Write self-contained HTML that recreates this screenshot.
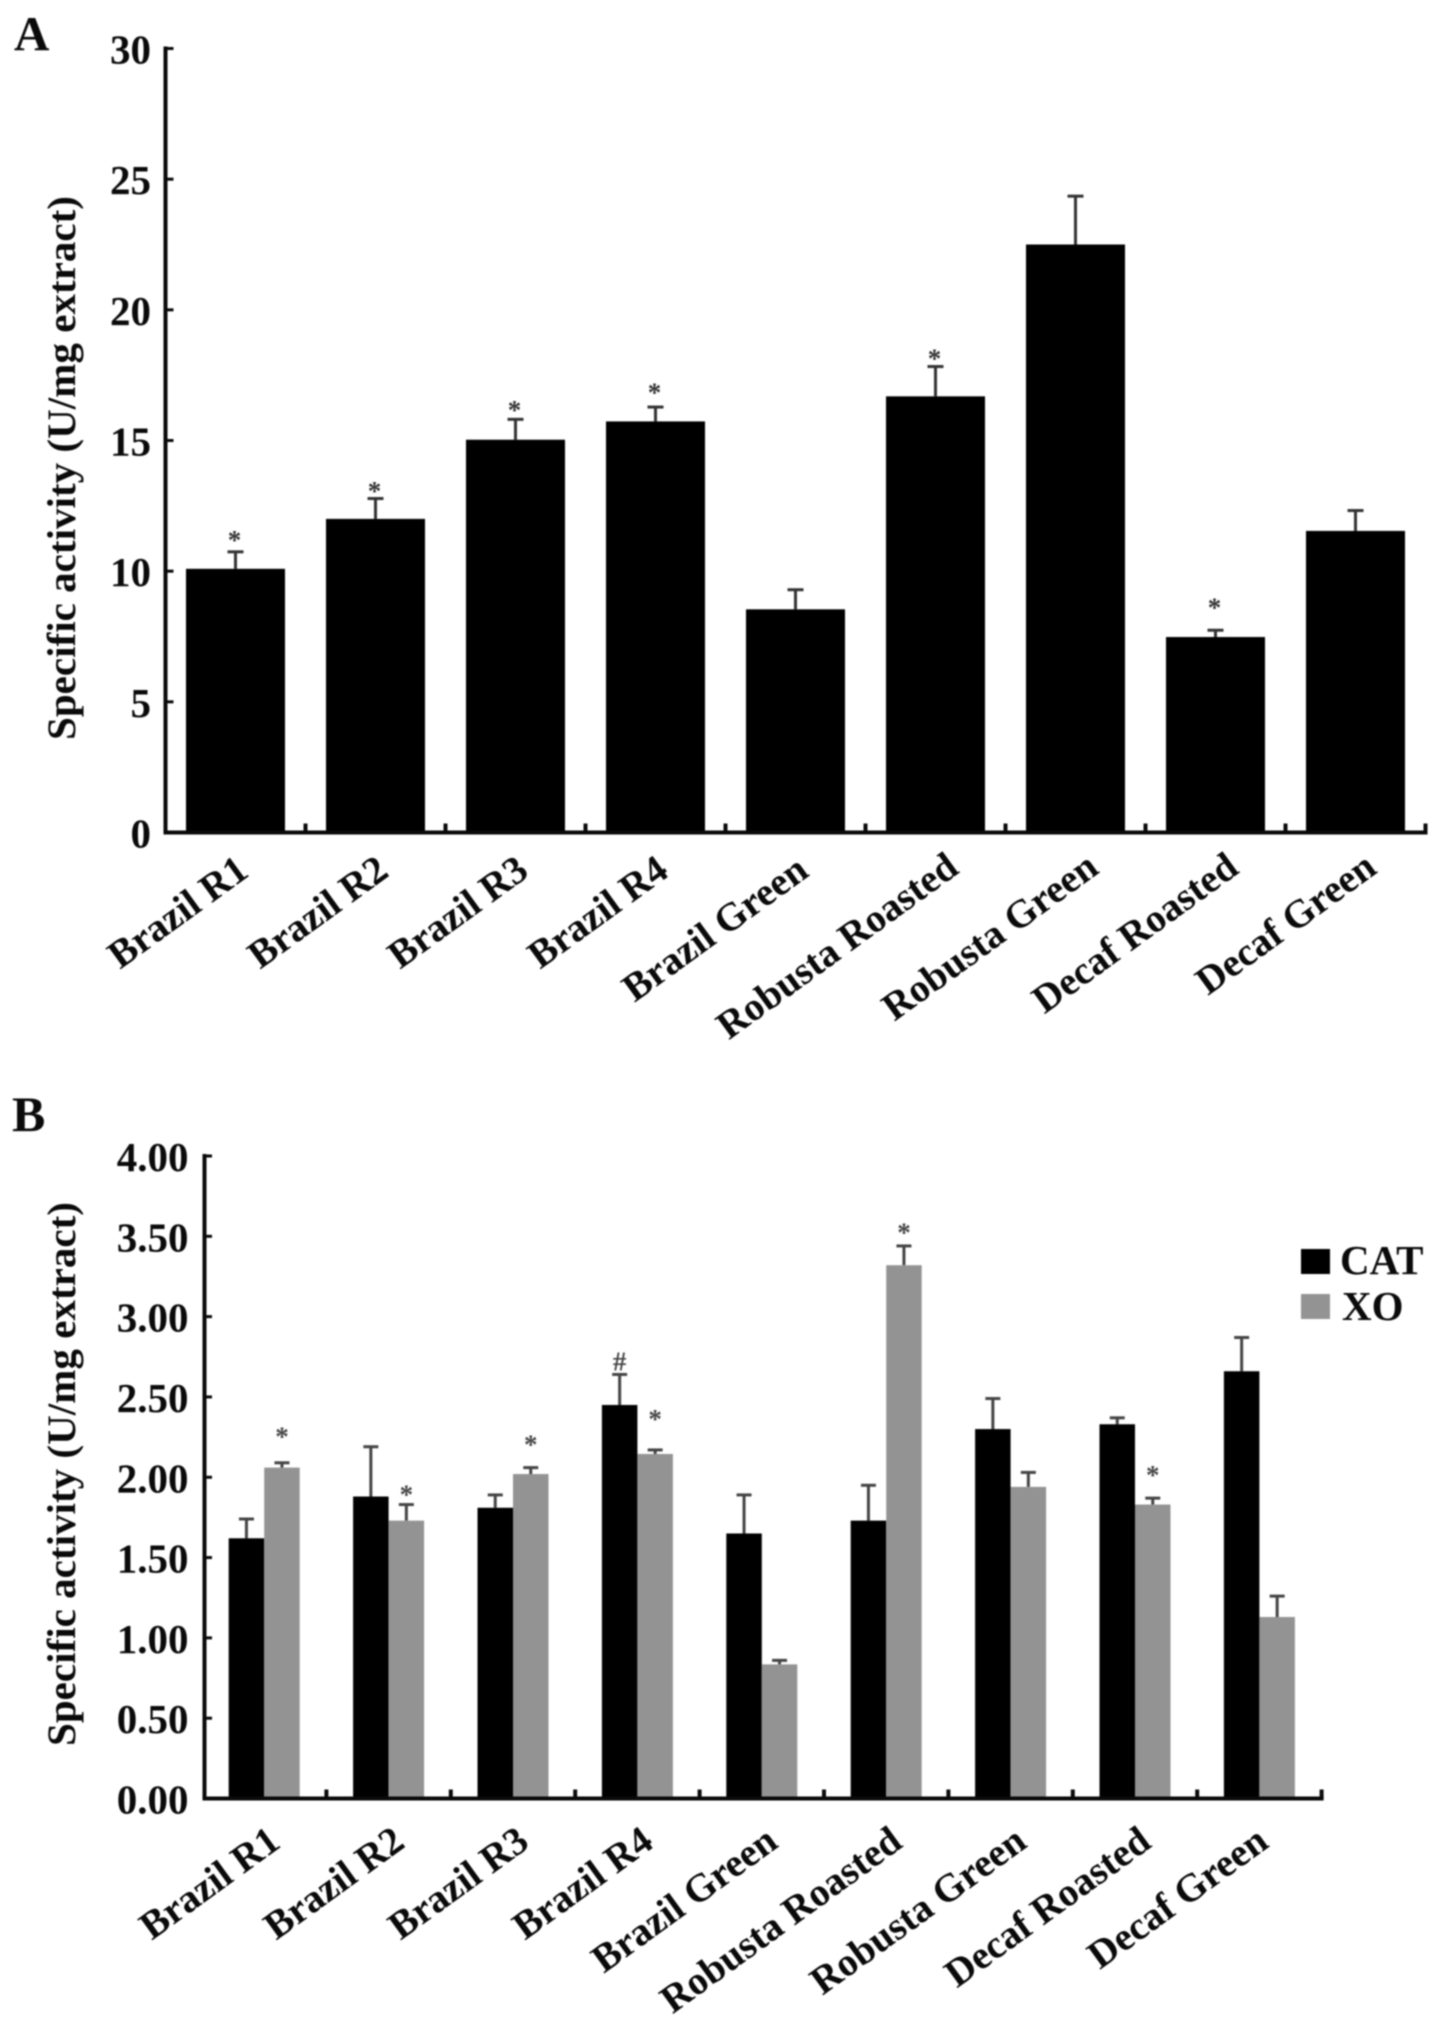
<!DOCTYPE html>
<html lang="en">
<head>
<meta charset="utf-8">
<title>Specific activity of coffee extracts</title>
<style>
html,body{margin:0;padding:0;background:#fff;width:1441px;height:2034px;overflow:hidden}
svg{display:block;filter:blur(0.7px)}
text{font-family:"Liberation Serif",serif;font-weight:bold;fill:#0a0a0a}
</style>
</head>
<body>
<svg id="figure" xmlns="http://www.w3.org/2000/svg" width="1441" height="2034" viewBox="0 0 1441 2034">
  <rect x="0" y="0" width="1441" height="2034" fill="#fff"/>
  <text x="14" y="50" font-size="49">A</text>
  <text x="12" y="1131" font-size="50">B</text>
  <text transform="translate(75,468) rotate(-90)" text-anchor="middle" font-size="40" textLength="544" lengthAdjust="spacingAndGlyphs">Specific activity (U/mg extract)</text>
  <text transform="translate(75,1474) rotate(-90)" text-anchor="middle" font-size="40" textLength="544" lengthAdjust="spacingAndGlyphs">Specific activity (U/mg extract)</text>
  <g id="panel-a"></g>
  <g id="panel-b"></g>
  <rect x="1301" y="1249" width="29" height="25" fill="#000"/>
  <text x="1340" y="1274" font-size="41">CAT</text>
  <rect x="1301" y="1294" width="29" height="25" fill="#939393"/>
  <text x="1342" y="1320" font-size="41">XO</text>
</svg>
<script>
const categories = ["Brazil R1", "Brazil R2", "Brazil R3", "Brazil R4", "Brazil Green", "Robusta Roasted", "Robusta Green", "Decaf Roasted", "Decaf Green"];

const activityValues = [10.09, 12.0, 15.03, 15.73, 8.54, 16.69, 22.5, 7.48, 11.54];
const activityErrors = [0.65, 0.78, 0.78, 0.55, 0.75, 1.14, 1.85, 0.26, 0.78];
const activityMarks = [11.43, 13.3, 16.4, 17.07, null, 18.36, null, 8.84, null];
const activityTickLabels = ["0", "5", "10", "15", "20", "25", "30"];
const activityTickValues = [0, 5, 10, 15, 20, 25, 30];

const catValues = [1.62, 1.88, 1.81, 2.45, 1.65, 1.73, 2.30, 2.33, 2.66];
const catErrors = [0.12, 0.31, 0.08, 0.19, 0.24, 0.22, 0.19, 0.04, 0.21];
const catMarks = [null, null, null, 2.72, null, null, null, null, null];
const xoValues = [2.06, 1.73, 2.02, 2.145, 0.835, 3.32, 1.94, 1.83, 1.13];
const xoErrors = [0.03, 0.10, 0.04, 0.025, 0.025, 0.12, 0.09, 0.04, 0.13];
const xoMarks = [2.29, 1.93, 2.24, 2.40, null, 3.56, null, 2.05, null];
const enzymeTickLabels = ["0.00", "0.50", "1.00", "1.50", "2.00", "2.50", "3.00", "3.50", "4.00"];
const enzymeTickValues = [0, 0.5, 1, 1.5, 2, 2.5, 3, 3.5, 4];

const SVG_NS = "http://www.w3.org/2000/svg";

function mk(parent, tag, attrs, txt) {
  const el = document.createElementNS(SVG_NS, tag);
  for (const k in attrs) el.setAttribute(k, attrs[k]);
  if (txt !== undefined) el.textContent = txt;
  parent.appendChild(el);
  return el;
}
function label(el, name) {
  
  
  return el;
}
function slug(s) { return s.toLowerCase().replace(/\s+/g, '-'); }

/* ---------- Panel A ---------- */
const aY = v => 832.5 - v * (784 / 30);
const aX = i => 165.5 + i * 140;
const aBandCenter = i => aX(i) + 70;
const aBarWidth = 99;
const panelA = document.getElementById('panel-a');

activityValues.forEach((v, i) => {
  const c = aBandCenter(i);
  const top = aY(v + activityErrors[i]);
  label(mk(panelA, 'line', { x1: c, x2: c, y1: aY(v), y2: top, stroke: '#333', 'stroke-width': 3 }), 'error-stem-a-' + slug(categories[i]));
  label(mk(panelA, 'line', { x1: c - 8, x2: c + 8, y1: top, y2: top, stroke: '#333', 'stroke-width': 3 }), 'error-cap-a-' + slug(categories[i]));
  label(mk(panelA, 'rect', { x: c - aBarWidth / 2, y: aY(v), width: aBarWidth, height: aY(0) - aY(v), fill: '#000' }), 'bar-a-' + slug(categories[i]));
  if (activityMarks[i] !== null) {
    label(mk(panelA, 'text', { x: c - 1, y: aY(activityMarks[i]) + 15, 'text-anchor': 'middle', 'font-size': 27, style: 'fill:#333' }, '*'), 'significance-mark-a-' + slug(categories[i]));
  }
  const dx = i === 8 ? 23 : (i > 4 ? 25 : 15);
  const baseline = i > 4 ? 872 : 875;
  label(mk(panelA, 'text', { transform: 'translate(' + (c + dx) + ',' + baseline + ') rotate(-36)', 'text-anchor': 'end', 'font-size': 39.5 }, categories[i]), 'x-label-a-' + slug(categories[i]));
});
label(mk(panelA, 'line', { x1: aX(0), x2: aX(0), y1: aY(30) - 2, y2: aY(0) + 2, stroke: '#0a0a0a', 'stroke-width': 4 }), 'y-axis-a');
label(mk(panelA, 'line', { x1: aX(0) - 2, x2: aX(categories.length) + 2, y1: aY(0), y2: aY(0), stroke: '#0a0a0a', 'stroke-width': 4 }), 'x-axis-a');
categories.forEach((c, i) => {
  label(mk(panelA, 'line', { x1: aX(i + 1), x2: aX(i + 1), y1: aY(0), y2: aY(0) - 9, stroke: '#0a0a0a', 'stroke-width': 4 }), 'x-tick-a-' + (i + 1));
});
activityTickValues.forEach((v, i) => {
  label(mk(panelA, 'line', { x1: aX(0), x2: aX(0) + 8, y1: aY(v), y2: aY(v), stroke: '#0a0a0a', 'stroke-width': 3 }), 'y-tick-a-' + activityTickLabels[i]);
  label(mk(panelA, 'text', { x: 151, y: aY(v) + 15, 'text-anchor': 'end', 'font-size': 41 }, activityTickLabels[i]), 'y-tick-label-a-' + activityTickLabels[i]);
});

/* ---------- Panel B ---------- */
const bY = v => 1798.5 - v * (642.5 / 4);
const bX = i => 202 + i * 124.4;
const bBandCenter = i => bX(i) + 62.2;
const bBarWidth = 35.5;
const panelB = document.getElementById('panel-b');

function drawEnzymeBar(i, v, e, mark, fill, left, series, glyph) {
  const c = left + bBarWidth / 2;
  const top = bY(v + e);
  label(mk(panelB, 'line', { x1: c, x2: c, y1: bY(v), y2: top, stroke: '#444', 'stroke-width': 3 }), 'error-stem-' + series + '-' + slug(categories[i]));
  label(mk(panelB, 'line', { x1: c - 7.5, x2: c + 7.5, y1: top, y2: top, stroke: '#444', 'stroke-width': 3 }), 'error-cap-' + series + '-' + slug(categories[i]));
  label(mk(panelB, 'rect', { x: left, y: bY(v), width: bBarWidth, height: bY(0) - bY(v), fill: fill }), 'bar-' + series + '-' + slug(categories[i]));
  if (mark !== null) {
    label(mk(panelB, 'text', { x: c, y: bY(mark) + (glyph === '#' ? 9 : 15), 'text-anchor': 'middle', 'font-size': glyph === '#' ? 27 : 27, style: 'fill:#444' }, glyph), 'significance-mark-' + series + '-' + slug(categories[i]));
  }
}
categories.forEach((name, i) => {
  const c = bBandCenter(i);
  drawEnzymeBar(i, catValues[i], catErrors[i], catMarks[i], '#000', c - bBarWidth, 'cat', '#');
  drawEnzymeBar(i, xoValues[i], xoErrors[i], xoMarks[i], '#939393', c, 'xo', '*');
  const dx = i === 8 ? 11 : 18;
  label(mk(panelB, 'text', { transform: 'translate(' + (c + dx) + ',1846) rotate(-36)', 'text-anchor': 'end', 'font-size': 39.5 }, name), 'x-label-b-' + slug(name));
});
label(mk(panelB, 'line', { x1: 204.5, x2: 204.5, y1: bY(4) - 2, y2: bY(0) + 2, stroke: '#0a0a0a', 'stroke-width': 4 }), 'y-axis-b');
label(mk(panelB, 'line', { x1: 203, x2: bX(categories.length) + 2, y1: bY(0), y2: bY(0), stroke: '#0a0a0a', 'stroke-width': 4 }), 'x-axis-b');
categories.forEach((c, i) => {
  label(mk(panelB, 'line', { x1: bX(i + 1), x2: bX(i + 1), y1: bY(0), y2: bY(0) - 9, stroke: '#0a0a0a', 'stroke-width': 4 }), 'x-tick-b-' + (i + 1));
});
enzymeTickValues.forEach((v, i) => {
  label(mk(panelB, 'line', { x1: 204.5, x2: 212, y1: bY(v), y2: bY(v), stroke: '#0a0a0a', 'stroke-width': 3 }), 'y-tick-b-' + enzymeTickLabels[i]);
  label(mk(panelB, 'text', { x: 188.5, y: bY(v) + 15, 'text-anchor': 'end', 'font-size': 41 }, enzymeTickLabels[i]), 'y-tick-label-b-' + enzymeTickLabels[i]);
});
</script>
</body>
</html>
